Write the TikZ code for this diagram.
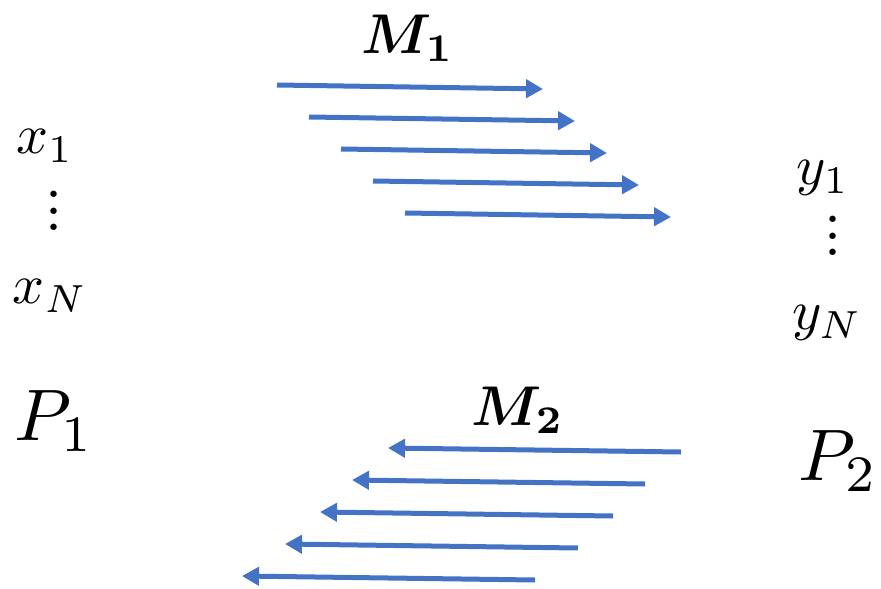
\documentclass[tikz,border=0pt]{standalone}
\usepackage{amsmath,amssymb,bm}
\usepackage{graphicx}
\usepackage{tikz}
\usetikzlibrary{arrows.meta}

\definecolor{mblue}{RGB}{68,114,196}
\newcommand{\labtxt}[1]{\scalebox{5.6}{#1}}
\newcommand{\partytxt}[1]{\scalebox{7.3}{#1}}
\newcommand{\dotstxt}{\scalebox{4.1}{\bfseries\vbox{\baselineskip4pt\lineskiplimit0pt\hbox{.}\hbox{.}\hbox{.}}}}

\tikzset{
  marrow/.style={draw=mblue, line width=5pt, -{Triangle[length=17pt,width=18pt]}},
  lbl/.style={inner sep=0pt}
}

\begin{document}
\begin{tikzpicture}[x=1pt,y=-1pt]
\useasboundingbox (0,0) rectangle (881,589);

% Left party
\node[lbl] (x1) at (45,146) {\labtxt{$x_1$}};
\node[lbl] (xd) at (54,211) {\dotstxt};
\node[lbl] (xN) at (50,296) {\labtxt{$x_N$}};
\node[lbl] (P1) at (54,421) {\partytxt{$P_1$}};

% Right party
\node[lbl] (y1) at (823,178) {\labtxt{$y_1$}};
\node[lbl] (yd) at (833,236) {\dotstxt};
\node[lbl] (yN) at (827,323) {\labtxt{$y_N$}};
\node[lbl] (P2) at (838,461) {\partytxt{$P_2$}};

% Messages
\node[lbl] (M1) at (408,38) {\labtxt{$\bm{M}_{\mathbf{1}}$}};
\node[lbl] (M2) at (518,410) {\labtxt{$\bm{M}_{\mathbf{2}}$}};

% M1 arrows (left to right)
\foreach \i in {0,...,4}{
  \coordinate (s\i) at (277+32*\i,85+32*\i);
  \coordinate (t\i) at (543+32*\i,89+32*\i);
  \draw[marrow] (s\i) -- (t\i);
}

% M2 arrows (right to left)
\foreach \i/\sx/\sy/\tx/\ty in {0/681/452/388/448,1/645/484/352/480,2/613/516/320/512,3/578/548/285/544,4/535/580/242/576}{
  \coordinate (u\i) at (\sx,\sy);
  \coordinate (v\i) at (\tx,\ty);
  \draw[marrow] (u\i) -- (v\i);
}

\end{tikzpicture}
\end{document}
